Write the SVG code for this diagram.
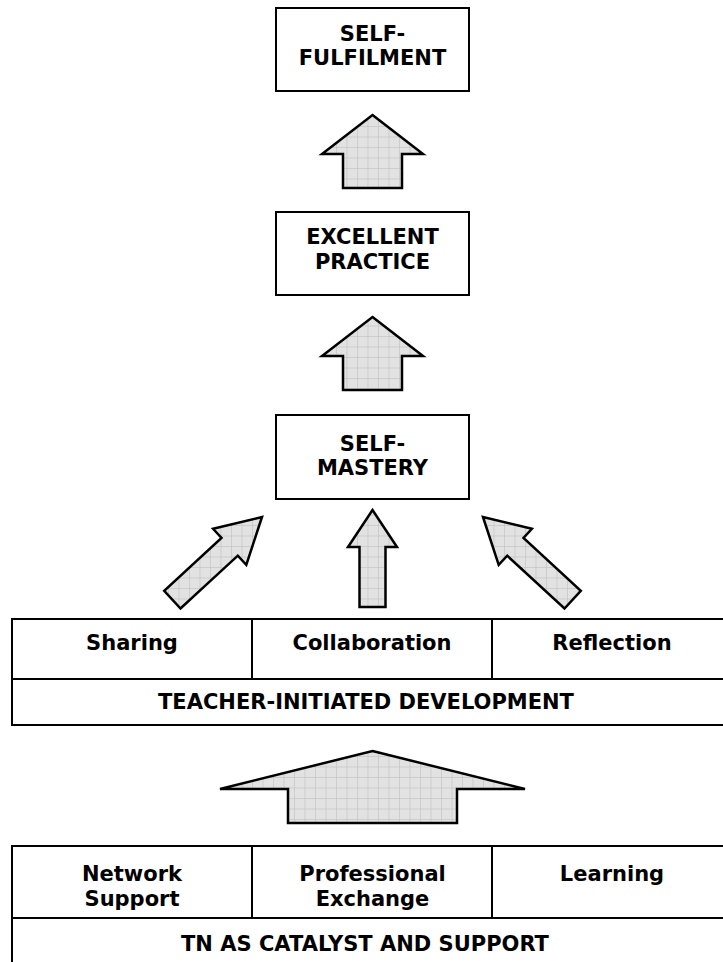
<svg xmlns="http://www.w3.org/2000/svg" width="723" height="962" viewBox="0 0 723 962">
<defs>
<pattern id="grid" patternUnits="userSpaceOnUse" width="10.5" height="10.5">
<rect width="10.5" height="10.5" fill="#e2e2e2"/>
<path d="M0 0.4H10.5M0.4 0V10.5" stroke="#c6c6c6" stroke-width="0.8" fill="none"/>
</pattern>
</defs>
<style>
.box{fill:#fff;stroke:#000;stroke-width:2}
.ln{stroke:#000;stroke-width:2;fill:none}
.arr{fill:url(#grid);stroke:#000;stroke-width:2.5;stroke-linejoin:miter}
text{font-family:"DejaVu Sans","Verdana",sans-serif;font-weight:bold;font-size:21px;fill:#000;text-anchor:middle}
</style>
<rect width="723" height="962" fill="#fff"/>
<g id="self-fulfilment">
<rect class="box" x="276" y="8" width="193" height="83"/>
<text x="372.5" y="41">SELF-</text>
<text x="372.5" y="65">FULFILMENT</text>
</g>
<g id="excellent-practice">
<rect class="box" x="276" y="212" width="193" height="83"/>
<text x="372.5" y="244">EXCELLENT</text>
<text x="372.5" y="269">PRACTICE</text>
</g>
<g id="self-mastery">
<rect class="box" x="276" y="415" width="193" height="84"/>
<text x="372.5" y="450.5">SELF-</text>
<text x="372.5" y="474.5">MASTERY</text>
</g>
<g id="teacher-initiated">
<rect class="box" x="12" y="619" width="720" height="106"/>
<path class="ln" d="M12 679H732M252 619V679M492 619V679"/>
<text x="132" y="650">Sharing</text>
<text x="372" y="650">Collaboration</text>
<text x="612" y="650">Reflection</text>
<text x="366" y="709">TEACHER-INITIATED DEVELOPMENT</text>
</g>
<g id="tn-catalyst">
<rect class="box" x="12" y="846" width="720" height="130"/>
<path class="ln" d="M12 918H732M252 846V918M492 846V918"/>
<text x="132" y="881">Network</text>
<text x="132" y="906">Support</text>
<text x="372.5" y="881">Professional</text>
<text x="372.5" y="906">Exchange</text>
<text x="612" y="881">Learning</text>
<text x="365" y="951">TN AS CATALYST AND SUPPORT</text>
</g>
<g id="connectors">
<polygon class="arr" points="372.5,115 423,154 402,154 402,188 343,188 343,154 322,154"/>
<polygon class="arr" points="372.5,317 423,356 402,356 402,390 343,390 343,356 322,356"/>
<polygon class="arr" points="372.5,510 397,547 385.5,547 385.5,607 359.5,607 359.5,547 348,547"/>
<polygon class="arr" points="262,517 246.3,564.8 237.8,555.7 180.5,608.5 164.2,590.9 221.5,538 213.1,528.8"/>
<polygon class="arr" points="483,517 498.7,564.8 507.2,555.7 564.5,608.5 580.8,590.9 523.5,538 531.9,528.8"/>
<polygon class="arr" points="372.5,751 525,789 457,789 457,823 288,823 288,789 220,789"/>
</g>
</svg>
